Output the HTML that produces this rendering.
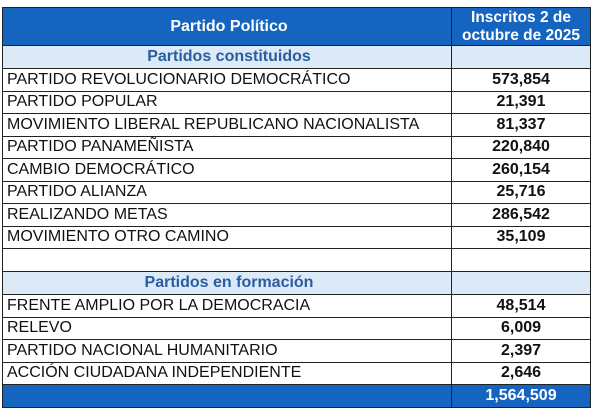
<!DOCTYPE html>
<html><head><meta charset="utf-8"><style>
body{margin:0;width:600px;height:418px;background:#fff;font-family:"Liberation Sans",sans-serif;position:relative;overflow:hidden}
.r{position:absolute;left:2px;width:589px;box-sizing:border-box;border-left:1px solid #222;border-right:1px solid #222;border-bottom:1px solid #222}
.a{position:absolute;left:0;top:0;bottom:0;width:449px;border-right:1px solid #222;box-sizing:border-box;padding-left:4px;font-size:16px;color:#111;display:flex;align-items:center}
.b{position:absolute;left:449px;right:0;top:0;bottom:0;display:flex;align-items:center;justify-content:center;font-weight:bold;font-size:16px;color:#111}
.h{background:#1565c0;color:#fff}
.h .a,.h .b{color:#fff;font-weight:bold;justify-content:center}
.s{background:#dce9f7}
.s .a{color:#2a5d9f;font-weight:bold;justify-content:center}
</style></head><body>
<div class="r h" style="top:7px;height:39px;border-top:1px solid #222"><div class="a" style="font-size:16px">Partido Político</div><div class="b" style="font-size:15.5px;line-height:18px;text-align:center">Inscritos 2 de<br>octubre de 2025</div></div>
<div class="r s" style="top:46px;height:23px"><div class="a">Partidos constituidos</div><div class="b"></div></div>
<div class="r" style="top:69px;height:22.5px"><div class="a">PARTIDO REVOLUCIONARIO DEMOCRÁTICO</div><div class="b">573,854</div></div>
<div class="r" style="top:91.5px;height:22.5px"><div class="a">PARTIDO POPULAR</div><div class="b">21,391</div></div>
<div class="r" style="top:114px;height:22.5px"><div class="a">MOVIMIENTO LIBERAL REPUBLICANO NACIONALISTA</div><div class="b">81,337</div></div>
<div class="r" style="top:136.5px;height:22.5px"><div class="a">PARTIDO PANAMEÑISTA</div><div class="b">220,840</div></div>
<div class="r" style="top:159px;height:22.5px"><div class="a">CAMBIO DEMOCRÁTICO</div><div class="b">260,154</div></div>
<div class="r" style="top:181.5px;height:22.5px"><div class="a">PARTIDO ALIANZA</div><div class="b">25,716</div></div>
<div class="r" style="top:204px;height:22.5px"><div class="a">REALIZANDO METAS</div><div class="b">286,542</div></div>
<div class="r" style="top:226.5px;height:22.5px"><div class="a">MOVIMIENTO OTRO CAMINO</div><div class="b">35,109</div></div>
<div class="r" style="top:249px;height:23px"><div class="a"></div><div class="b"></div></div>
<div class="r s" style="top:272px;height:23px"><div class="a">Partidos en formación</div><div class="b"></div></div>
<div class="r" style="top:295px;height:22.5px"><div class="a">FRENTE AMPLIO POR LA DEMOCRACIA</div><div class="b">48,514</div></div>
<div class="r" style="top:317.5px;height:22.5px"><div class="a">RELEVO</div><div class="b">6,009</div></div>
<div class="r" style="top:340px;height:22.5px"><div class="a">PARTIDO NACIONAL HUMANITARIO</div><div class="b">2,397</div></div>
<div class="r" style="top:362.5px;height:22.5px"><div class="a">ACCIÓN CIUDADANA INDEPENDIENTE</div><div class="b">2,646</div></div>
<div class="r h" style="top:385px;height:23px"><div class="a"></div><div class="b">1,564,509</div></div>
</body></html>
